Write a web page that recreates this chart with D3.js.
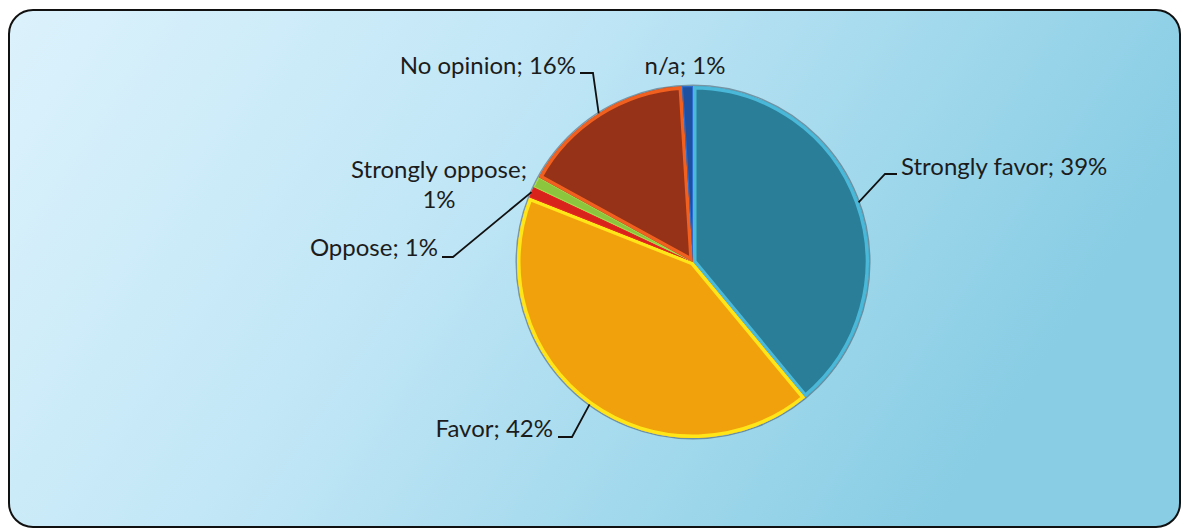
<!DOCTYPE html>
<html>
<head>
<meta charset="utf-8">
<script src="https://cdn.jsdelivr.net/npm/d3@7"></script>
<style>
  html, body { margin: 0; padding: 0; background: #ffffff; }
  svg { display: block; }
  text { font-family: Lato, "Open Sans", sans-serif; fill: #1c1c1c; }
</style>
</head>
<body>
<svg id="chart" width="1183" height="531"></svg>
<script>
// ---- data ----
const categories = ["Strongly favor", "Favor", "Oppose", "Strongly oppose", "No opinion", "n/a"];
const values = [39, 42, 1, 1, 16, 1];
const fillColors = ["#2a7e98", "#f1a10c", "#d8231c", "#8cc63e", "#963218", "#1f4f9f"];
const edgeColors = ["#4ab9d9", "#ffe619", "#e8261e", "#a6dc4a", "#f2601f", "#2e6dd0"];

// ---- layout ----
const W = 1183, H = 531;
const cx = 693, cy = 262, R = 176;

// label placement: text anchor point and leader elbow
const labelLayout = {
  "Strongly favor":  { lines: ["Strongly favor; 39%"], x: 901, y: 175, anchor: "start", leader: [[885, 174], [897, 174]] },
  "Favor":           { lines: ["Favor; 42%"], x: 553, y: 437, anchor: "end", leader: [[572, 437], [558, 437]] },
  "Oppose":          { lines: ["Oppose; 1%"], x: 438, y: 256, anchor: "end", leader: [[453, 257], [442, 257]] },
  "Strongly oppose": { lines: ["Strongly oppose;", "1%"], x: 439, y: 178, anchor: "middle", leader: null },
  "No opinion":      { lines: ["No opinion; 16%"], x: 576, y: 74, anchor: "end", leader: [[593, 73], [580, 73]] },
  "n/a":             { lines: ["n/a; 1%"], x: 685, y: 74, anchor: "middle", leader: null }
};

const svg = d3.select("#chart");
const defs = svg.append("defs");

const bg = defs.append("linearGradient").attr("id", "bg")
  .attr("x1", "0%").attr("y1", "0%").attr("x2", "100%").attr("y2", "30%");
bg.append("stop").attr("offset", "0%").attr("stop-color", "#dcf2fc");
bg.append("stop").attr("offset", "45%").attr("stop-color", "#c0e6f6");
bg.append("stop").attr("offset", "100%").attr("stop-color", "#88cde4");

svg.append("rect").attr("width", W).attr("height", H).attr("fill", "#ffffff");
svg.append("rect")
  .attr("x", 9).attr("y", 10).attr("width", 1171).attr("height", 517)
  .attr("rx", 24).attr("ry", 24)
  .attr("fill", "url(#bg)")
  .attr("stroke", "#111").attr("stroke-width", 2);

const data = categories.map((c, i) => ({ category: c, value: values[i], i }));
const pie = d3.pie().value(d => d.value).sort(null).startAngle(0).endAngle(2 * Math.PI);
const arcs = pie(data);
const arc = d3.arc().innerRadius(0).outerRadius(R);

const g = svg.append("g").attr("transform", `translate(${cx},${cy})`);

// subtle shadow outline
g.append("circle").attr("r", R + 0.8).attr("fill", "none")
  .attr("stroke", "#2a3a48").attr("stroke-opacity", 0.45).attr("stroke-width", 1.5);

arcs.forEach((a, k) => {
  const cid = "clip" + k;
  defs.append("clipPath").attr("id", cid)
    .append("path").attr("d", arc(a));
  g.append("path")
    .attr("d", arc(a))
    .attr("fill", fillColors[a.data.i]);
  // inner edge highlight (clipped to the slice so it stays inside)
  g.append("path")
    .attr("d", arc(a))
    .attr("fill", "none")
    .attr("stroke", edgeColors[a.data.i])
    .attr("stroke-width", (a.data.value < 2) ? 2 : 7)
    .attr("stroke-linejoin", "round")
    .attr("clip-path", `url(#${cid})`);
});

// ---- labels ----
const lab = svg.append("g");
arcs.forEach(a => {
  const L = labelLayout[a.data.category];
  const mid = (a.startAngle + a.endAngle) / 2;
  const px = cx + R * Math.sin(mid), py = cy - R * Math.cos(mid);
  if (L.leader) {
    const pts = [[px, py]].concat(L.leader);
    lab.append("path")
      .attr("d", d3.line()(pts))
      .attr("fill", "none").attr("stroke", "#111").attr("stroke-width", 1.8);
  }
  const t = lab.append("text")
    .attr("x", L.x).attr("y", L.y)
    .attr("text-anchor", L.anchor)
    .attr("font-size", 24);
  L.lines.forEach((s, j) => {
    t.append("tspan").attr("x", L.x).attr("dy", j === 0 ? 0 : 30).text(s);
  });
});
</script>
</body>
</html>
